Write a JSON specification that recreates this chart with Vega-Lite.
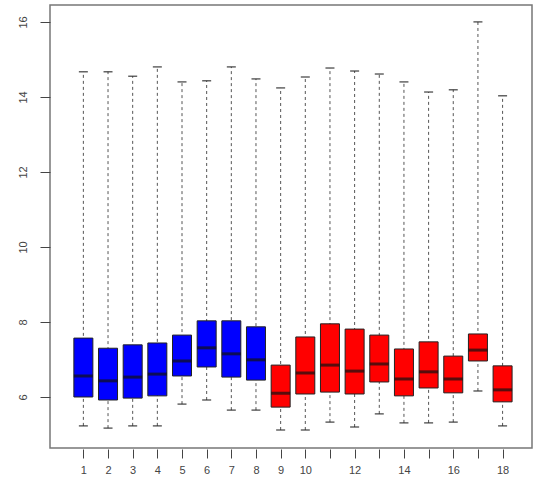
{
  "$schema": "https://vega.github.io/schema/vega-lite/v6.json",
  "width": 482,
  "height": 443,
  "autosize": "none",
  "padding": {"left": 50, "top": 5, "right": 4, "bottom": 36},
  "background": "white",
  "config": {
    "view": {"stroke": "#777", "strokeWidth": 1.5},
    "axis": {"grid": false, "domain": false, "tickColor": "#444", "labelColor": "#444", "labelFont": "Liberation Sans", "labelFontSize": 11}
  },
  "data": {
    "values": [
      {"s": 1, "lo": 5.23, "q1": 6.0, "med": 6.56, "q3": 7.57, "hi": 14.67, "grp": "A"},
      {"s": 2, "lo": 5.17, "q1": 5.92, "med": 6.43, "q3": 7.3, "hi": 14.67, "grp": "A"},
      {"s": 3, "lo": 5.23, "q1": 5.97, "med": 6.53, "q3": 7.39, "hi": 14.55, "grp": "A"},
      {"s": 4, "lo": 5.23, "q1": 6.03, "med": 6.61, "q3": 7.44, "hi": 14.8, "grp": "A"},
      {"s": 5, "lo": 5.81, "q1": 6.56, "med": 6.96, "q3": 7.65, "hi": 14.4, "grp": "A"},
      {"s": 6, "lo": 5.92, "q1": 6.8, "med": 7.31, "q3": 8.03, "hi": 14.43, "grp": "A"},
      {"s": 7, "lo": 5.65, "q1": 6.53, "med": 7.15, "q3": 8.03, "hi": 14.8, "grp": "A"},
      {"s": 8, "lo": 5.65, "q1": 6.45, "med": 6.99, "q3": 7.87, "hi": 14.48, "grp": "A"},
      {"s": 9, "lo": 5.12, "q1": 5.73, "med": 6.1, "q3": 6.85, "hi": 14.24, "grp": "B"},
      {"s": 10, "lo": 5.12, "q1": 6.08, "med": 6.64, "q3": 7.6, "hi": 14.53, "grp": "B"},
      {"s": 11, "lo": 5.33, "q1": 6.13, "med": 6.85, "q3": 7.95, "hi": 14.77, "grp": "B"},
      {"s": 12, "lo": 5.2, "q1": 6.08, "med": 6.69, "q3": 7.81, "hi": 14.69, "grp": "B"},
      {"s": 13, "lo": 5.55, "q1": 6.4, "med": 6.88, "q3": 7.65, "hi": 14.61, "grp": "B"},
      {"s": 14, "lo": 5.31, "q1": 6.03, "med": 6.48, "q3": 7.28, "hi": 14.4, "grp": "B"},
      {"s": 15, "lo": 5.31, "q1": 6.24, "med": 6.67, "q3": 7.47, "hi": 14.13, "grp": "B"},
      {"s": 16, "lo": 5.33, "q1": 6.11, "med": 6.48, "q3": 7.09, "hi": 14.19, "grp": "B"},
      {"s": 17, "lo": 6.16, "q1": 6.96, "med": 7.25, "q3": 7.68, "hi": 16.0, "grp": "B"},
      {"s": 18, "lo": 5.23, "q1": 5.87, "med": 6.19, "q3": 6.83, "hi": 14.03, "grp": "B"}
    ]
  },
  "encoding": {
    "x": {
      "field": "s", "type": "quantitative",
      "scale": {"domain": [-0.15, 18.99], "nice": false, "zero": false},
      "axis": {
        "title": null,
        "values": [1,2,3,4,5,6,7,8,9,10,11,12,13,14,15,16,17,18],
        "labelExpr": "datum.value <= 10 || datum.value % 2 == 0 ? datum.label : ''",
        "tickSize": 9, "labelPadding": 6, "offset": 1, "labelFlush": false, "labelOverlap": false
      }
    }
  },
  "layer": [
    {
      "mark": {"type": "rule", "color": "#555", "strokeDash": [3, 3], "strokeWidth": 1},
      "encoding": {
        "y": {
          "field": "lo", "type": "quantitative",
          "scale": {"domain": [4.64, 16.45], "nice": false, "zero": false},
          "axis": {
            "title": null, "values": [6, 8, 10, 12, 14, 16],
            "labelAngle": -90, "labelAlign": "center", "labelBaseline": "bottom",
            "tickSize": 10, "labelPadding": 12
          }
        },
        "y2": {"field": "hi"}
      }
    },
    {
      "mark": {"type": "tick", "orient": "horizontal", "color": "#222", "size": 9, "thickness": 1.5},
      "encoding": {"y": {"field": "lo", "type": "quantitative"}}
    },
    {
      "mark": {"type": "tick", "orient": "horizontal", "color": "#222", "size": 9, "thickness": 1.5},
      "encoding": {"y": {"field": "hi", "type": "quantitative"}}
    },
    {
      "mark": {"type": "bar", "width": 19, "stroke": "#222", "strokeWidth": 1},
      "encoding": {
        "y": {"field": "q1", "type": "quantitative"},
        "y2": {"field": "q3"},
        "color": {
          "field": "grp", "type": "nominal",
          "scale": {"domain": ["A", "B"], "range": ["#0000FF", "#FF0000"]},
          "legend": null
        }
      }
    },
    {
      "mark": {"type": "tick", "orient": "horizontal", "color": "#111", "size": 19, "thickness": 3},
      "encoding": {"y": {"field": "med", "type": "quantitative"}}
    }
  ]
}
